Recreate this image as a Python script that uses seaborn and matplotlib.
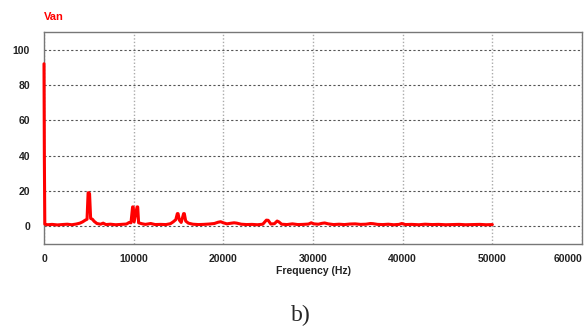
import seaborn as sns
import pandas as pd
import matplotlib.pyplot as plt

# SPECTRUM DATA
freq_hz = [0, 40, 90, 400, 900, 1500, 2000, 2600, 3100, 3600, 4000, 4300, 4600, 4800,
           4920, 5000, 5080, 5200, 5400, 5600, 5900, 6300, 6600, 6900, 7400, 8000, 8600,
           9200, 9500, 9700, 9880, 9950, 10050, 10380, 10450, 10550, 10900, 11300, 11900,
           12400, 13000, 13600, 14100, 14400, 14700, 14870, 14950, 15100, 15300, 15570,
           15650, 15800, 16100, 16600, 17200, 17800, 18400, 19000, 19400, 19700, 20000,
           20400, 20900, 21200, 21500, 22000, 22600, 23200, 23800, 24400, 24800, 25000,
           25300, 25700, 26000, 26200, 26500, 27100, 27700, 28300, 28900, 29500, 29800,
           30100, 30600, 31000, 31300, 31700, 32300, 32900, 33500, 34100, 34700, 35300,
           35900, 36400, 36700, 37200, 37800, 38400, 39000, 39600, 39900, 40300, 41000,
           41800, 42500, 43300, 44000, 44800, 45500, 46300, 47000, 47800, 48600, 49300, 50000]
amplitude = [92, 39, 1.2, 0.9, 1.1, 0.8, 1.0, 1.2, 0.9, 1.3, 1.8, 2.5, 3.5, 4.0,
             19, 19, 18.5, 4.5, 4.0, 2.8, 1.6, 1.2, 1.8, 1.0, 1.2, 0.9, 1.1,
             1.3, 2.2, 2.0, 11, 11, 2.5, 11, 11, 2.0, 1.5, 1.1, 1.6,
             1.0, 1.1, 1.0, 1.5, 2.5, 3.8, 7.2, 7.2, 3.5, 2.2, 7.2,
             7.2, 3.0, 1.8, 1.2, 1.0, 1.1, 1.3, 1.6, 2.3, 2.6, 2.0,
             1.4, 1.8, 2.0, 1.8, 1.2, 1.0, 1.1, 0.9, 1.2, 3.5, 3.4,
             1.3, 1.5, 3.0, 2.5, 1.2, 1.0, 1.4, 1.0, 1.1, 1.3, 2.0,
             1.4, 1.2, 1.7, 1.9, 1.4, 1.0, 1.2, 1.0, 1.3, 1.4, 1.1,
             1.2, 1.6, 1.5, 1.1, 1.0, 1.2, 0.9, 1.1, 1.6, 1.0, 1.1,
             0.9, 1.2, 1.0, 1.1, 0.9, 1.0, 1.1, 0.9, 1.0, 1.1, 0.9, 1.0]

x_ticks = [0, 10000, 20000, 30000, 40000, 50000, 60000]
y_ticks = [0, 20, 40, 60, 80, 100]

df = pd.DataFrame({"Frequency (Hz)": freq_hz, "Van": amplitude})

# THEME
sns.set_style("white")
plt.rcParams['font.family'] = ['Liberation Sans', 'DejaVu Sans']

fig = plt.figure(figsize=(5.86, 3.29), dpi=100)
ax = fig.add_axes([44 / 586, 1 - 244 / 329, (582 - 44) / 586, (244 - 32) / 329])

sns.lineplot(data=df, x="Frequency (Hz)", y="Van", ax=ax, color="#ff0000",
             linewidth=2.2, estimator=None, sort=False)
for ln in ax.lines:
    ln.set_clip_on(False)   # keep the DC spike fully visible on the left edge
    ln.set_zorder(3)

ax.set_xlim(0, 60000)
ax.set_ylim(-10, 110)
ax.set_xticks(x_ticks)
ax.set_yticks(y_ticks)
ax.set_xticklabels([str(t) for t in x_ticks], fontsize=7.5, fontweight="bold")
ax.set_yticklabels([str(t) for t in y_ticks], fontsize=7.5, fontweight="bold")
ax.get_xticklabels()[-1].set_horizontalalignment("right")
ax.tick_params(axis="x", length=0, pad=7, colors="#222222")
ax.tick_params(axis="y", length=0, pad=10, colors="#222222")
ax.set_xlabel("")
ax.set_ylabel("")

# grid: dashed dark horizontals, dotted light verticals
ax.yaxis.grid(True, color="#555555", linestyle=(0, (2, 2)), linewidth=0.8)
ax.xaxis.grid(True, color="#aaaaaa", linestyle=(0, (1, 1.5)), linewidth=1.0)
ax.set_axisbelow(True)
for s in ax.spines.values():
    s.set_visible(True)
    s.set_color("#777777")
    s.set_linewidth(1.0)

fig.text(44 / 586, 1 - 17 / 329, "Van", color="#ff0000", fontsize=8,
         fontweight="bold", va="center", ha="left")
fig.text(313 / 586, 1 - 271 / 329, "Frequency (Hz)", fontsize=7.5,
         fontweight="bold", va="center", ha="center", color="#222222")
fig.text(301 / 586, 1 - 315 / 329, "b)", fontsize=17, family="Liberation Serif",
         va="center", ha="center")

fig.savefig("out.png", dpi=100)
